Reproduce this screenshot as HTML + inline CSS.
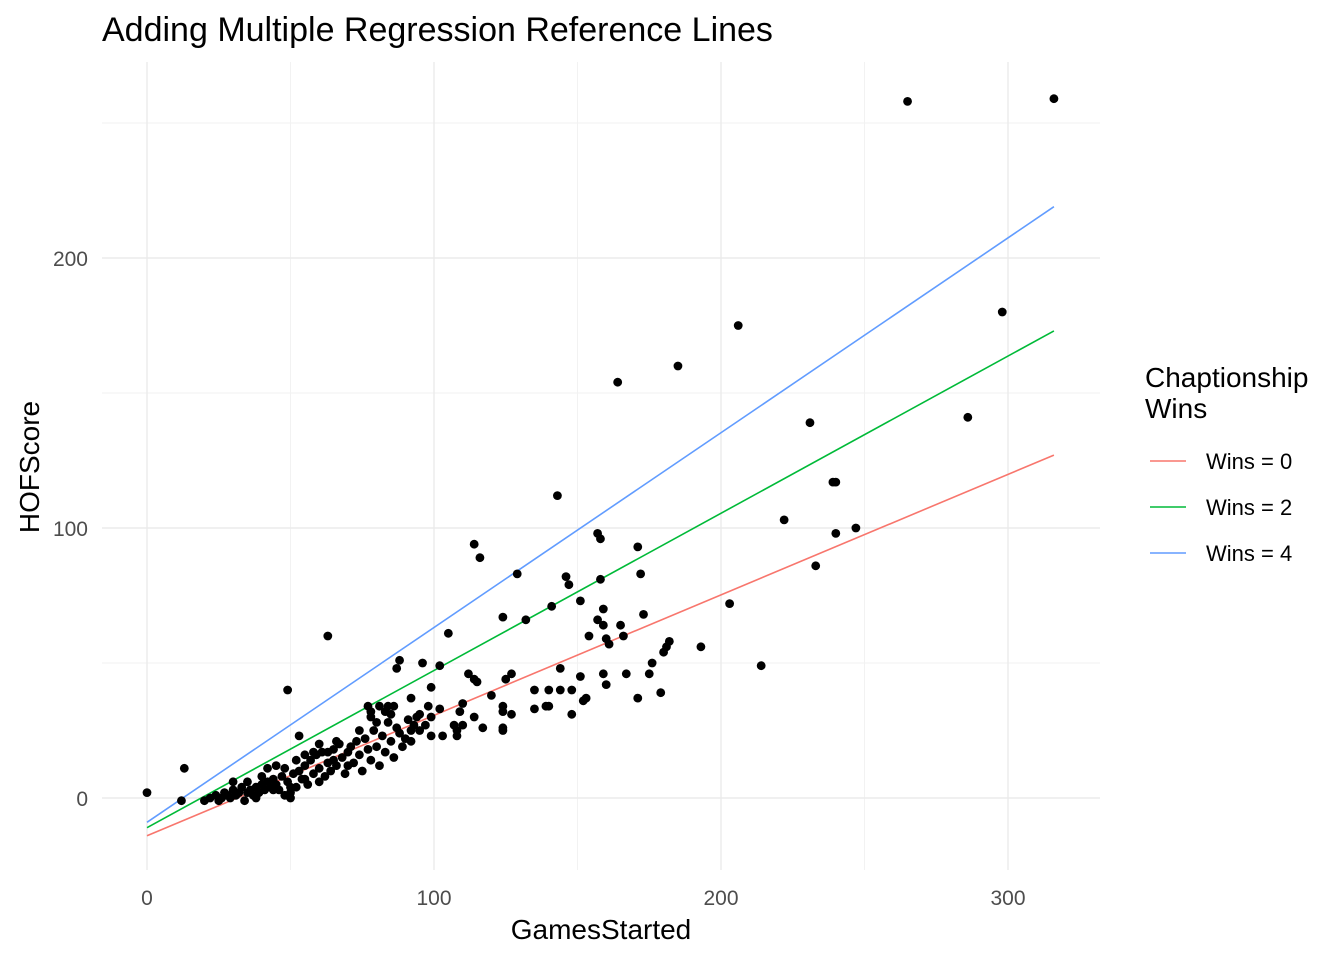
<!DOCTYPE html>
<html><head><meta charset="utf-8"><style>
html,body{margin:0;padding:0;background:#fff;}
svg{display:block;font-family:"Liberation Sans",Arial,sans-serif;}
</style></head><body>
<svg id="chart" width="1344" height="960" viewBox="0 0 1344 960">
<text x="102" y="41" font-size="34" fill="#000">Adding Multiple Regression Reference Lines</text>
<g id="grid"></g>
<g id="lines"></g>
<g id="points"></g>
<g id="ticks"></g>
<text x="601" y="939" font-size="28" text-anchor="middle" fill="#000">GamesStarted</text>
<text transform="translate(39,467) rotate(-90)" font-size="28" text-anchor="middle" fill="#000">HOFScore</text>
<g>
<text x="1145" y="387" font-size="28" fill="#000">Chaptionship</text>
<text x="1145" y="418" font-size="28" fill="#000">Wins</text>
<g id="legend-entries"></g>
</g>
</svg>
<script>
const xTicks=[0,100,200,300];
const yTicks=[0,100,200];
const xMinor=[50,150,250];
const yMinor=[50,150,250];
const seriesNames=["Wins = 0","Wins = 2","Wins = 4"];
const seriesColors=["#F8766D","#00BA38","#619CFF"];
const lineX=[0,316];
const lineY0=[-14,127];
const lineY2=[-11,173];
const lineY4=[-9,219];
const pts=[[316,259],[265,258],[298,180],[206,175],[185,160],[164,154],[286,141],[231,139],[240,117],[239,117],[222,103],[247,100],[240,98],[233,86],[203,72],[214,49],[143,112],[114,94],[116,89],[157,98],[158,96],[171,93],[129,83],[146,82],[147,79],[158,81],[172,83],[141,71],[151,73],[159,70],[173,68],[132,66],[124,67],[157,66],[159,64],[165,64],[154,60],[160,59],[161,57],[166,60],[182,58],[181,56],[180,54],[193,56],[63,60],[105,61],[88,51],[87,48],[96,50],[102,49],[176,50],[167,46],[175,46],[159,46],[160,42],[144,48],[151,45],[112,46],[114,44],[115,43],[125,44],[127,46],[49,40],[99,41],[92,37],[120,38],[135,40],[140,40],[144,40],[148,40],[171,37],[179,39],[152,36],[153,37],[135,33],[139,34],[140,34],[148,31],[127,31],[124,34],[124,32],[110,35],[109,32],[114,30],[102,33],[98,34],[99,30],[77,34],[78,32],[81,34],[83,32],[84,34],[86,34],[53,23],[107,27],[110,27],[108,25],[117,26],[124,25],[124,26],[94,30],[92,25],[95,25],[97,27],[92,21],[103,23],[108,23],[99,23],[13,11],[0,2],[12,-1],
[20,-1],[22,0],[24,1],[25,-1],[26,0],[27,2],[28,1],[29,0],[30,3],[31,1],[32,2],[33,4],[34,-1],[35,2],[36,3],[37,1],[38,4],[39,2],[40,5],[41,3],[42,6],[43,4],[44,7],[45,5],[46,3],[47,8],[48,1],[49,6],[50,2],[51,9],[52,4],[53,10],[54,7],[55,12],[56,5],[57,14],[58,9],[59,16],[60,11],[61,17],[62,8],[63,13],[64,10],[65,18],[66,12],[67,20],[68,15],[69,9],[70,17],[71,19],[72,13],[73,21],[74,16],[75,10],[76,22],[77,18],[78,14],[79,25],[80,19],[81,12],[82,23],[83,17],[84,28],[85,21],[86,15],[87,26],[88,24],[89,19],[90,22],[91,29],[93,27],[95,31],[48,11],[50,4],[52,14],[55,16],[58,17],[60,20],[63,17],[66,21],[70,12],[74,25],[78,30],[80,28],[85,31],[30,6],[35,6],[40,8],[42,11],[45,12],[38,0],[44,3],[50,0],[55,7],[60,6],[65,14]];

const NS="http://www.w3.org/2000/svg";
const X=v=>147+v*2.87, Y=v=>798-v*2.7;
const L={l:102,r:1100,t:62,b:870};
function mk(tag,attrs,parent){const e=document.createElementNS(NS,tag);for(const k in attrs)e.setAttribute(k,attrs[k]);parent.appendChild(e);return e;}
const grid=document.getElementById('grid');
xMinor.forEach(v=>{const e=mk('line',{x1:X(v),x2:X(v),y1:L.t,y2:L.b,stroke:'#f2f2f2','stroke-width':1},grid);});
yMinor.forEach(v=>{const e=mk('line',{x1:L.l,x2:L.r,y1:Y(v),y2:Y(v),stroke:'#f2f2f2','stroke-width':1},grid);});
xTicks.forEach(v=>{const e=mk('line',{x1:X(v),x2:X(v),y1:L.t,y2:L.b,stroke:'#ebebeb','stroke-width':1.4},grid);});
yTicks.forEach(v=>{const e=mk('line',{x1:L.l,x2:L.r,y1:Y(v),y2:Y(v),stroke:'#ebebeb','stroke-width':1.4},grid);});
const ticks=document.getElementById('ticks');
xTicks.forEach(v=>{const t=mk('text',{x:X(v),y:905,'font-size':21,'text-anchor':'middle',fill:'#4d4d4d'},ticks);t.textContent=v;});
yTicks.forEach(v=>{const t=mk('text',{x:88,y:Y(v)+8,'font-size':21,'text-anchor':'end',fill:'#4d4d4d'},ticks);t.textContent=v;});
const lines=document.getElementById('lines');
[lineY0,lineY2,lineY4].forEach((ys,i)=>{const e=mk('line',{x1:X(lineX[0]),y1:Y(ys[0]),x2:X(lineX[1]),y2:Y(ys[1]),stroke:seriesColors[i],'stroke-width':1.6},lines);});
const pg=document.getElementById('points');
pts.forEach(p=>{const c=mk('circle',{cx:X(p[0]),cy:Y(p[1]),r:4.4,fill:'#000'},pg);});
const lg=document.getElementById('legend-entries');
seriesNames.forEach((n,i)=>{const y=461+i*46;const g=mk('g',{},lg);
mk('line',{x1:1150,x2:1186,y1:y,y2:y,stroke:seriesColors[i],'stroke-width':1.6},g);
const t=mk('text',{x:1206,y:y+8,'font-size':22,fill:'#000'},g);t.textContent=n;});
</script>
</body></html>
